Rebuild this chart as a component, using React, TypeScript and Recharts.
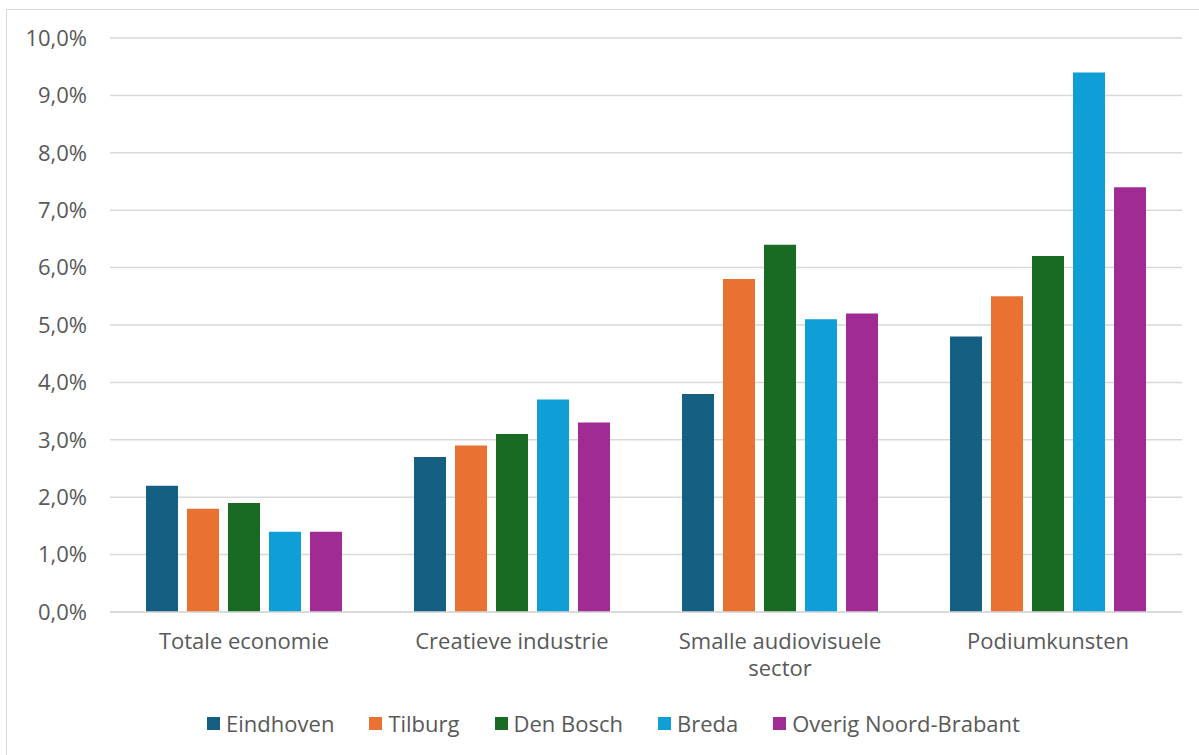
import { BarChart, Bar, XAxis, YAxis, CartesianGrid, Legend } from 'recharts'

const categories = ['Totale economie', 'Creatieve industrie', 'Smalle audiovisuele sector', 'Podiumkunsten']

const eindhoven = [2.2, 2.7, 3.8, 4.8]
const tilburg = [1.8, 2.9, 5.8, 5.5]
const denBosch = [1.9, 3.1, 6.4, 6.2]
const breda = [1.4, 3.7, 5.1, 9.4]
const overig = [1.4, 3.3, 5.2, 7.4]

const yTicks = [0, 1, 2, 3, 4, 5, 6, 7, 8, 9, 10]

const series = [
  { key: 'eindhoven', name: 'Eindhoven', values: eindhoven, color: '#156082' },
  { key: 'tilburg', name: 'Tilburg', values: tilburg, color: '#E97132' },
  { key: 'denBosch', name: 'Den Bosch', values: denBosch, color: '#196B24' },
  { key: 'breda', name: 'Breda', values: breda, color: '#0F9ED5' },
  { key: 'overig', name: 'Overig Noord-Brabant', values: overig, color: '#A02B93' },
]

const data = categories.map((name, i) => {
  const row: Record<string, string | number> = { name }
  series.forEach(s => { row[s.key] = s.values[i] })
  return row
})

const FONT = '"Open Sans", "Noto Sans", sans-serif'
const TEXT_COLOR = '#595959'
const GRID = '#d9d9d9'
const FS = 22

// wrap long labels onto a second line, like the original
function wrapLabel(label: string, max = 20): string[] {
  if (label.length <= max) return [label]
  const cut = label.lastIndexOf(' ', max)
  if (cut < 0) return [label]
  return [label.slice(0, cut), label.slice(cut + 1)]
}

function CategoryTick({ x, y, payload }: any) {
  const lines = wrapLabel(String(payload.value))
  return (
    <text x={x} y={y} textAnchor="middle" fill={TEXT_COLOR} fontSize={FS} fontFamily={FONT}>
      {lines.map((line, i) => (
        <tspan key={i} x={x} dy={i === 0 ? '0.9em' : '1.25em'}>{line}</tspan>
      ))}
    </text>
  )
}

function LegendContent() {
  return (
    <div style={{ display: 'flex', justifyContent: 'center', alignItems: 'center', height: 40, paddingLeft: 45, gap: 35, fontFamily: FONT, fontSize: FS, color: TEXT_COLOR }}>
      {series.map(s => (
        <div key={s.key} style={{ display: 'flex', alignItems: 'center', gap: 6 }}>
          <span style={{ width: 13, height: 13, background: s.color, display: 'inline-block' }} />
          <span>{s.name}</span>
        </div>
      ))}
    </div>
  )
}

export default function App() {
  return (
    <div style={{ position: 'absolute', left: 0, top: 0, width: 1199, height: 755, overflow: 'hidden', background: '#fff' }}>
      <div style={{ position: 'absolute', left: 6, top: 9, width: 1220, height: 780, border: `1px solid ${GRID}` }} />
      <div style={{ position: 'absolute', left: 0, top: 0 }}>
        <BarChart
          width={1199}
          height={755}
          data={data}
          margin={{ top: 38, right: 17, bottom: 12, left: 0 }}
          barSize={32}
          barGap={9}
        >
          <CartesianGrid vertical={false} stroke={GRID} strokeWidth={1.5} />
          <XAxis
            dataKey="name"
            height={91}
            axisLine={{ stroke: GRID, strokeWidth: 1.5 }}
            tickLine={false}
            tickSize={0}
            tickMargin={17}
            interval={0}
            tick={<CategoryTick />}
          />
          <YAxis
            width={110}
            domain={[0, 10]}
            ticks={yTicks}
            axisLine={false}
            tickLine={false}
            tickSize={0}
            tickMargin={23}
            tickFormatter={(v: number) => `${v.toFixed(1).replace('.', ',')}%`}
            tick={{ fill: TEXT_COLOR, fontSize: FS, fontFamily: FONT }}
          />
          <Legend verticalAlign="bottom" height={40} content={<LegendContent />} />
          {series.map(s => (
            <Bar key={s.key} dataKey={s.key} name={s.name} fill={s.color} isAnimationActive={false} />
          ))}
        </BarChart>
      </div>
    </div>
  )
}
